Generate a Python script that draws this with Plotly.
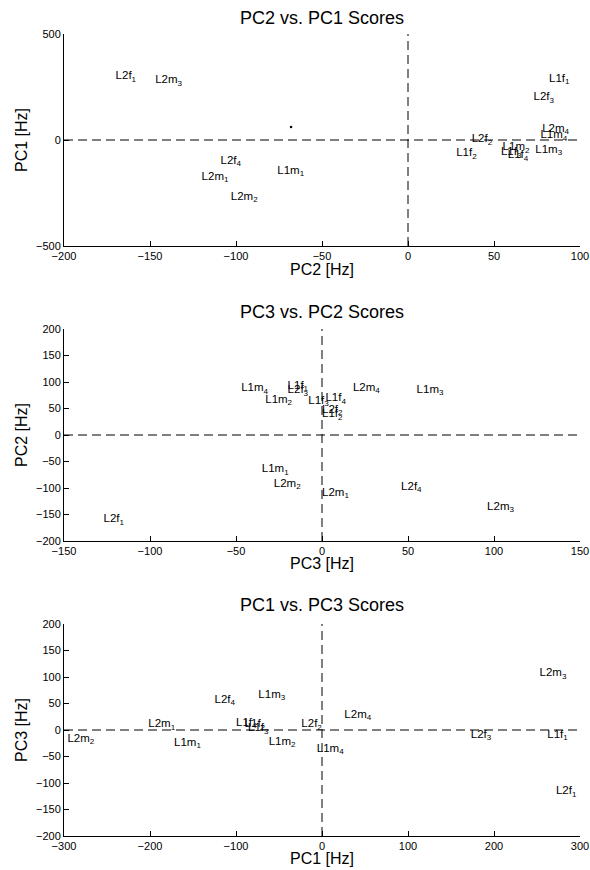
import plotly.graph_objects as go

# ---- data -------------------------------------------------------------
speakers = ["L1f1", "L1f2", "L1f3", "L1f4", "L1m1", "L1m2", "L1m3", "L1m4",
            "L2f1", "L2f2", "L2f3", "L2f4", "L2m1", "L2m2", "L2m3", "L2m4"]
labels = ["L1f<sub>1</sub>", "L1f<sub>2</sub>", "L1f<sub>3</sub>", "L1f<sub>4</sub>",
          "L1m<sub>1</sub>", "L1m<sub>2</sub>", "L1m<sub>3</sub>", "L1m<sub>4</sub>",
          "L2f<sub>1</sub>", "L2f<sub>2</sub>", "L2f<sub>3</sub>", "L2f<sub>4</sub>",
          "L2m<sub>1</sub>", "L2m<sub>2</sub>", "L2m<sub>3</sub>", "L2m<sub>4</sub>"]
pc1 = [262, -90, -86, -100, -172, -62, -74, -6,
       272, -24, 173, -125, -202, -296, 253, 26]
pc2 = [82, 28, 54, 58, -76, 55, 74, 77,
       -170, 37, 73, -109, -120, -103, -147, 78]
pc3 = [-20, 0, -8, 2, -35, -33, 55, -47,
       -127, 0, -20, 46, 0, -28, 96, 18]

# stray dot in the first panel (PC2, PC1)
dot_pc2 = [-68]
dot_pc1 = [61]

# panel definitions: x values, y values, ranges, ticks, titles
panels = [
    dict(x=pc2, y=pc1, xr=[-200, 100], yr=[-500, 500], dx=50, dy=500,
         title="PC2 vs. PC1 Scores", xt="PC2 [Hz]", yt="PC1 [Hz]"),
    dict(x=pc3, y=pc2, xr=[-150, 150], yr=[-200, 200], dx=50, dy=50,
         title="PC3 vs. PC2 Scores", xt="PC3 [Hz]", yt="PC2 [Hz]"),
    dict(x=pc1, y=pc3, xr=[-300, 300], yr=[-200, 200], dx=100, dy=50,
         title="PC1 vs. PC3 Scores", xt="PC1 [Hz]", yt="PC3 [Hz]"),
]

# ---- layout geometry (pixels) ------------------------------------------
W, H = 590, 870
left_px, right_px = 64, 580
tops = [34, 329, 624]
bottoms = [246, 541, 836]
title_y = [18, 312, 605]
xtitle_y = [270, 563, 858]
ytitle_x = 21

FONT = "Liberation Sans, Arial, Helvetica, sans-serif"

fig = go.Figure()
annotations = []
layout_axes = {}

for i, p in enumerate(panels):
    n = i + 1
    xa = "x" if n == 1 else f"x{n}"
    ya = "y" if n == 1 else f"y{n}"
    xkey = "xaxis" if n == 1 else f"xaxis{n}"
    ykey = "yaxis" if n == 1 else f"yaxis{n}"

    dom_x = [left_px / W, right_px / W]
    dom_y = [1 - bottoms[i] / H, 1 - tops[i] / H]

    common = dict(showline=True, linecolor="black", linewidth=1,
                  ticks="inside", ticklen=5, tickcolor="black", tickwidth=1,
                  showgrid=False, zeroline=False, mirror=False,
                  automargin=False,
                  tickfont=dict(family=FONT, size=11, color="black"))
    layout_axes[xkey] = dict(domain=dom_x, range=p["xr"], dtick=p["dx"],
                             tick0=p["xr"][0], anchor=ya, **common)
    layout_axes[ykey] = dict(domain=dom_y, range=p["yr"], dtick=p["dy"],
                             tick0=p["yr"][0], anchor=xa, **common)

    # dashed reference lines through zero
    fig.add_trace(go.Scatter(x=p["xr"], y=[0, 0], mode="lines",
                             line=dict(color="black", width=1, dash="9px,5px"),
                             xaxis=xa, yaxis=ya, hoverinfo="skip",
                             showlegend=False))
    fig.add_trace(go.Scatter(x=[0, 0], y=p["yr"], mode="lines",
                             line=dict(color="black", width=1, dash="9px,5px"),
                             xaxis=xa, yaxis=ya, hoverinfo="skip",
                             showlegend=False))

    # speaker labels
    fig.add_trace(go.Scatter(x=p["x"], y=p["y"], mode="text", text=labels,
                             textposition="top right",
                             textfont=dict(family=FONT, size=11.5, color="black"),
                             xaxis=xa, yaxis=ya, cliponaxis=False,
                             showlegend=False, hovertext=speakers,
                             hoverinfo="text"))

    annotations.append(dict(text=p["title"], xref="paper", yref="paper",
                            x=(left_px + right_px) / 2 / W,
                            y=1 - title_y[i] / H, xanchor="center",
                            yanchor="middle", showarrow=False,
                            font=dict(family=FONT, size=18, color="black")))
    annotations.append(dict(text=p["xt"], xref="paper", yref="paper",
                            x=(left_px + right_px) / 2 / W,
                            y=1 - xtitle_y[i] / H, xanchor="center",
                            yanchor="middle", showarrow=False,
                            font=dict(family=FONT, size=16, color="black")))
    annotations.append(dict(text=p["yt"], xref="paper", yref="paper",
                            x=ytitle_x / W,
                            y=1 - (tops[i] + bottoms[i]) / 2 / H,
                            xanchor="center", yanchor="middle", textangle=-90,
                            showarrow=False,
                            font=dict(family=FONT, size=16, color="black")))

# stray dot in the first panel
fig.add_trace(go.Scatter(x=dot_pc2, y=dot_pc1, mode="markers",
                         marker=dict(color="black", size=2.5),
                         xaxis="x", yaxis="y", showlegend=False))

fig.update_layout(width=W, height=H,
                  margin=dict(l=0, r=0, t=0, b=0, pad=0, autoexpand=False),
                  paper_bgcolor="white", plot_bgcolor="white",
                  showlegend=False, annotations=annotations,
                  font=dict(family=FONT, color="black"), **layout_axes)

fig.write_html("out.html",
               config={"displayModeBar": False},
               post_script="document.body.style.margin='0';"
                           "document.body.style.overflow='hidden';")
